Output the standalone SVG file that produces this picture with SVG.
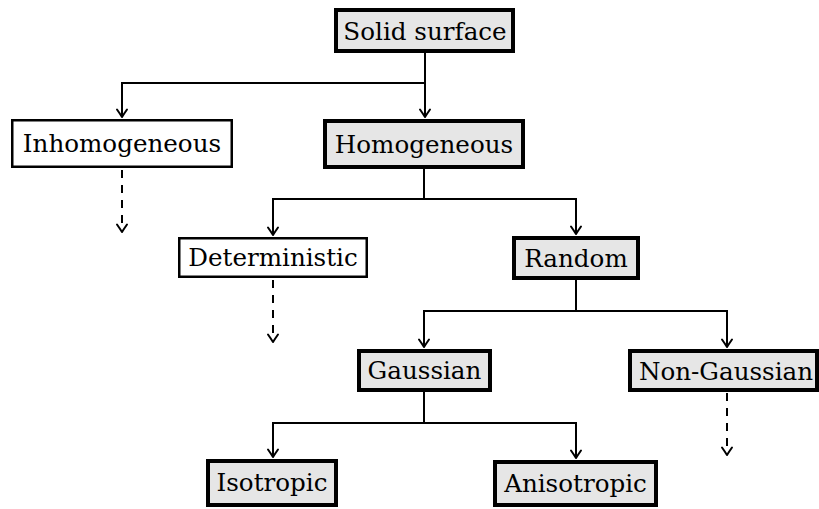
<svg xmlns="http://www.w3.org/2000/svg" width="819" height="509" viewBox="0 0 819 509">
  <defs>
    <style>
      .thick { fill: #e6e6e6; stroke: #000; stroke-width: 4; }
      .thin { fill: #fff; stroke: #000; stroke-width: 2.5; }
      .lbl { font-family: "DejaVu Serif", "Liberation Serif", serif; font-size: 24.6px; fill: #000; text-anchor: middle; }
      .edge { fill: none; stroke: #000; stroke-width: 2; marker-end: url(#arr); }
      .dash { stroke-dasharray: 8 7; }
    </style>
    <marker id="arr" viewBox="-9 -7 11 14" markerWidth="11" markerHeight="14" refX="0" refY="0" orient="auto" markerUnits="userSpaceOnUse">
      <path d="M-7.5,-5 Q-2.5,-1.5 0,0 Q-2.5,1.5 -7.5,5" fill="none" stroke="#000" stroke-width="2" stroke-linecap="round" stroke-linejoin="round"/>
    </marker>
  </defs>
  <rect width="819" height="509" fill="#fff"/>

  <g id="connectors">
    <path class="edge" d="M425 53 V83 H122 V117"/>
    <path class="edge" d="M425 83 V117"/>
    <path class="edge dash" d="M122 170 V232"/>
    <path class="edge" d="M424 169 V199 H273 V235"/>
    <path class="edge" d="M424 199 H576 V234"/>
    <path class="edge dash" d="M273 280 V342"/>
    <path class="edge" d="M576 280 V311 H424 V347"/>
    <path class="edge" d="M576 311 H727 V347"/>
    <path class="edge dash" d="M727 393 V455"/>
    <path class="edge" d="M424 392 V423 H273 V457"/>
    <path class="edge" d="M424 423 H576 V458"/>
  </g>

  <g id="solid-surface">
    <rect class="thick" x="336" y="10" width="177" height="41"/>
    <text class="lbl" x="425" y="39.5">Solid surface</text>
  </g>
  <g id="inhomogeneous">
    <rect class="thin" x="12.25" y="120.25" width="219.5" height="46.5"/>
    <text class="lbl" x="122" y="152">Inhomogeneous</text>
  </g>
  <g id="homogeneous">
    <rect class="thick" x="325" y="121" width="198" height="46"/>
    <text class="lbl" x="424" y="152.5">Homogeneous</text>
  </g>
  <g id="deterministic">
    <rect class="thin" x="179.25" y="238.25" width="187.5" height="38.5"/>
    <text class="lbl" x="273" y="266">Deterministic</text>
  </g>
  <g id="random">
    <rect class="thick" x="514" y="238" width="124" height="40"/>
    <text class="lbl" x="576" y="266.5">Random</text>
  </g>
  <g id="gaussian">
    <rect class="thick" x="359" y="351" width="131" height="39"/>
    <text class="lbl" x="424.5" y="379">Gaussian</text>
  </g>
  <g id="non-gaussian">
    <rect class="thick" x="630" y="351" width="187" height="39"/>
    <text class="lbl" x="726" y="379.5">Non-Gaussian</text>
  </g>
  <g id="isotropic">
    <rect class="thick" x="208" y="461" width="128" height="44"/>
    <text class="lbl" x="272" y="491">Isotropic</text>
  </g>
  <g id="anisotropic">
    <rect class="thick" x="495" y="462" width="161" height="43"/>
    <text class="lbl" x="575.5" y="491.5">Anisotropic</text>
  </g>
</svg>
